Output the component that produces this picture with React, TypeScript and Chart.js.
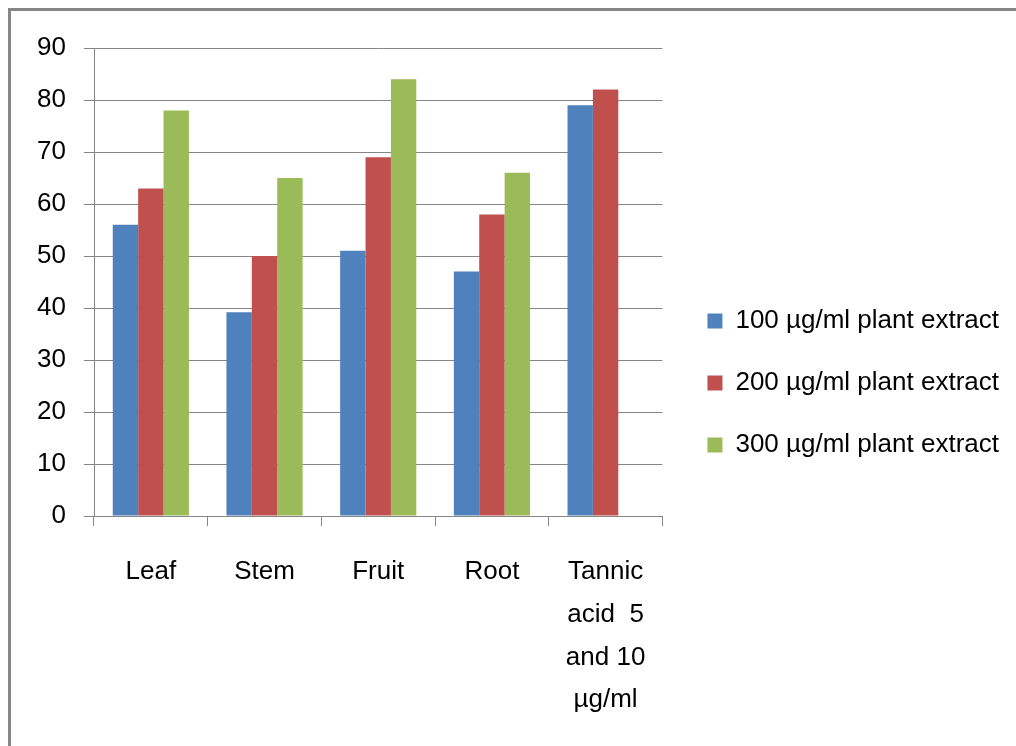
import React, { useEffect, useRef } from "react";
import { Chart, registerables } from "chart.js";

Chart.register(...registerables);

const categories: (string | string[])[] = ["Leaf", "Stem", "Fruit", "Root", ["Tannic", "acid  5", "and 10", "µg/ml"]];
const series100 = [56, 39.2, 51, 47, 79];
const series200 = [63, 50, 69, 58, 82];
const series300: (number | null)[] = [78, 65, 84, 66, null];
const seriesLabels = ["100 µg/ml plant extract", "200 µg/ml plant extract", "300 µg/ml plant extract"];
const seriesColors = ["#4F81BD", "#C0504D", "#9BBB59"];

const FONT = "'Liberation Sans', Arial, sans-serif";

const legendShift = {
  id: "legendShift",
  afterLayout(chart: any) {
    const lg = chart.legend;
    if (!lg) return;
    lg.left += 9;
    lg.right += 9;
    lg.top -= 14;
    lg.bottom -= 14;
  },
};

export default function App() {
  const ref = useRef<HTMLCanvasElement>(null);
  useEffect(() => {
    if (!ref.current) return;
    const chart = new Chart(ref.current, {
      type: "bar",
      data: {
        labels: categories,
        datasets: [series100, series200, series300].map((d, i) => ({
          label: seriesLabels[i],
          data: d,
          backgroundColor: seriesColors[i],
          borderWidth: 0,
          categoryPercentage: 0.67,
          barPercentage: 1,
        })),
      },
      plugins: [legendShift],
      options: {
        animation: false,
        responsive: false,
        layout: { padding: { top: 48, left: 0, right: 16, bottom: 0 } },
        plugins: {
          tooltip: { enabled: false },
          legend: {
            position: "right",
            maxWidth: 500,
            labels: {
              boxWidth: 15,
              boxHeight: 15,
              padding: 36,
              color: "#000",
              font: { family: FONT, size: 26 },
            },
          },
        },
        scales: {
          x: {
            afterFit: (s: any) => { s.height = 746 - 516; },
            grid: { drawOnChartArea: false, color: "#868686", tickLength: 10, offset: true },
            border: { color: "#868686", width: 1 },
            ticks: { color: "#000", padding: 25, maxRotation: 0, autoSkip: false, font: { family: FONT, size: 26, lineHeight: 1.64 } },
          },
          y: {
            min: 0,
            max: 90,
            afterFit: (s: any) => { s.width = 94; },
            grid: { color: "#868686", tickLength: 10, lineWidth: 1 },
            border: { color: "#868686", width: 1 },
            ticks: { stepSize: 10, color: "#000", padding: 18, font: { family: FONT, size: 26 } },
          },
        },
      },
    });
    return () => chart.destroy();
  }, []);
  return (
    <div style={{ position: "fixed", left: 0, top: 0, width: 1016, height: 746, background: "#fff", overflow: "hidden" }}>
      <div style={{ position: "absolute", left: 8, top: 8, width: 1100, height: 900, border: "3px solid #868686" }} />
      <canvas ref={ref} width={1016} height={746} style={{ position: "absolute", left: 0, top: 0 }} />
    </div>
  );
}
